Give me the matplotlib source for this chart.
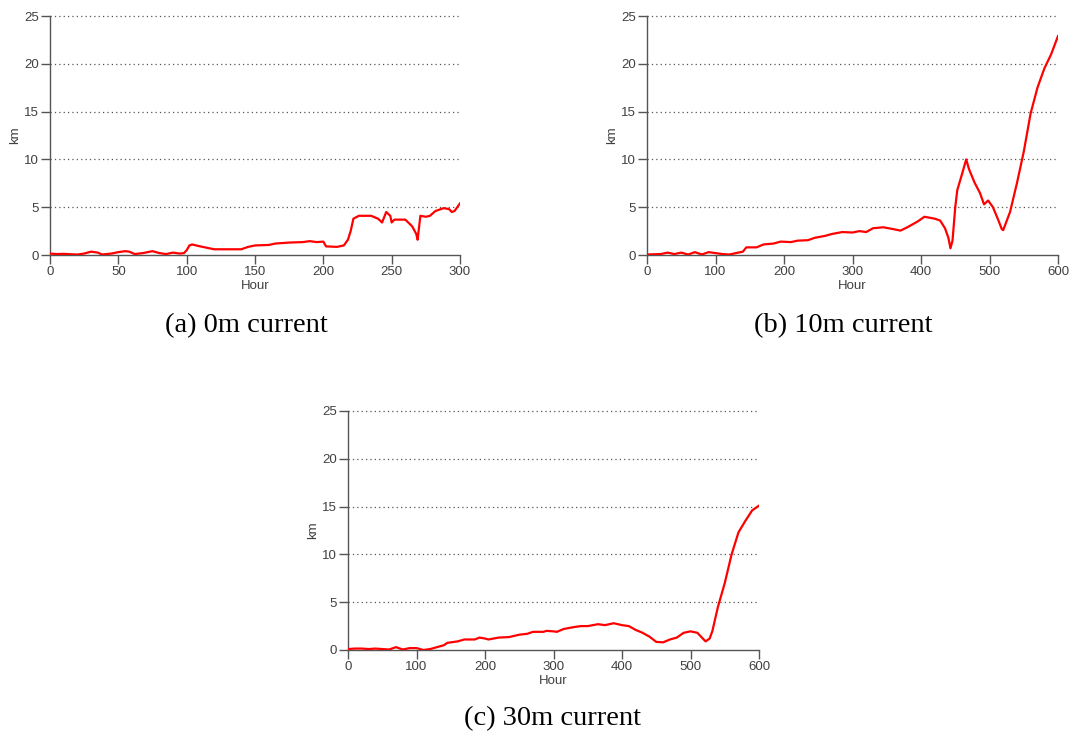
import matplotlib
matplotlib.use("Agg")
import matplotlib.pyplot as plt

# Panel (a) 0m current
hours_a = [0, 5, 10, 15, 20, 25, 30, 35, 38, 45, 50, 55, 58, 62, 68, 75, 80, 85, 90, 95, 98,
           100, 102, 104, 110, 120, 130, 140, 145, 150, 160, 165, 175, 185, 190, 195, 200,
           202, 210, 215, 218, 220, 222, 226, 235, 240, 243, 246, 249, 250, 252, 260, 265,
           268, 269, 271, 275, 278, 282, 288, 292, 294, 296, 300]
km_a = [0.15, 0.1, 0.12, 0.08, 0.05, 0.15, 0.35, 0.25, 0.05, 0.15, 0.3, 0.4, 0.35, 0.1, 0.2,
        0.4, 0.2, 0.1, 0.25, 0.15, 0.2,
        0.5, 1.0, 1.1, 0.9, 0.6, 0.6, 0.6, 0.85, 1.0, 1.05, 1.2, 1.3, 1.35, 1.45, 1.35, 1.4,
        0.9, 0.85, 1.0, 1.6, 2.5, 3.8, 4.1, 4.1, 3.8, 3.4, 4.5, 4.1, 3.4, 3.7, 3.7, 3.0,
        2.2, 1.6, 4.1, 4.0, 4.1, 4.6, 4.9, 4.8, 4.5, 4.6, 5.4]

# Panel (b) 10m current
hours_b = [0, 20, 30, 40, 50, 60, 70, 80, 90, 100, 110, 120, 130, 140, 145, 160, 170, 185,
           195, 210, 220, 235, 245, 260, 270, 285, 300, 310, 320, 330, 345, 360, 370, 380,
           395, 405, 420, 428, 435, 440, 443, 446, 450, 453, 458, 462, 466, 470, 478, 486,
           492, 498, 505, 512, 518, 520, 530, 540, 550, 560, 570, 580, 590, 600]
km_b = [0.05, 0.1, 0.25, 0.1, 0.25, 0.05, 0.3, 0.05, 0.3, 0.2, 0.1, 0.05, 0.2, 0.35, 0.8,
        0.8, 1.1, 1.2, 1.4, 1.35, 1.5, 1.55, 1.8, 2.0, 2.2, 2.4, 2.35, 2.5, 2.4, 2.8, 2.9,
        2.7, 2.55, 2.9, 3.5, 4.0, 3.8, 3.6, 2.8, 1.8, 0.7, 1.5, 5.0, 6.8, 8.0, 9.0, 10.0,
        9.0, 7.6, 6.5, 5.3, 5.7, 5.0, 3.8, 2.7, 2.6, 4.5, 7.5, 10.8, 14.8, 17.5, 19.5,
        21.0, 22.9]

# Panel (c) 30m current
hours_c = [0, 10, 20, 30, 40, 50, 60, 70, 80, 90, 100, 110, 120, 130, 140, 145, 160, 170,
           185, 192, 200, 205, 220, 235, 250, 262, 270, 285, 290, 300, 305, 315, 330, 340,
           350, 365, 375, 388, 400, 410, 420, 430, 440, 450, 460, 470, 480, 490, 500, 510,
           518, 522, 528, 532, 540, 550, 560, 570, 580, 590, 600]
km_c = [0.1, 0.15, 0.15, 0.1, 0.15, 0.1, 0.05, 0.3, 0.05, 0.2, 0.2, 0.0, 0.1, 0.3, 0.5,
        0.75, 0.9, 1.1, 1.1, 1.3, 1.2, 1.1, 1.3, 1.35, 1.6, 1.7, 1.9, 1.9, 2.0, 1.95, 1.9,
        2.2, 2.4, 2.5, 2.5, 2.7, 2.6, 2.8, 2.6, 2.5, 2.1, 1.8, 1.4, 0.85, 0.8, 1.1, 1.3,
        1.8, 1.95, 1.8, 1.2, 0.9, 1.2, 2.0, 4.5, 7.0, 10.0, 12.3, 13.5, 14.6, 15.1]

y_ticks = [0, 5, 10, 15, 20, 25]
x_ticks_a = [0, 50, 100, 150, 200, 250, 300]
x_ticks_bc = [0, 100, 200, 300, 400, 500, 600]
captions = ["(a) 0m current", "(b) 10m current", "(c) 30m current"]

W, H = 1072, 736
fig = plt.figure(figsize=(W / 100, H / 100), dpi=100)

def px_axes(x0, x1, y_top, y_bot):
    return fig.add_axes([x0 / W, 1 - y_bot / H, (x1 - x0) / W, (y_bot - y_top) / H])

tick_col = "#404040"

def style(ax, xmax, xticks):
    ax.set_xlim(0, xmax)
    ax.set_ylim(0, 25)
    ax.set_xticks(xticks)
    ax.set_yticks(y_ticks)
    for s in ["top", "right"]:
        ax.spines[s].set_visible(False)
    for s in ["left", "bottom"]:
        ax.spines[s].set_color("#555555")
        ax.spines[s].set_linewidth(1.0)
    ax.tick_params(direction="out", length=6.5, width=1, color="#555555",
                   labelsize=9.5, labelcolor=tick_col, pad=1.5)
    for lab in ax.get_xticklabels() + ax.get_yticklabels():
        lab.set_family("Liberation Sans")
    for yv in y_ticks[1:]:
        ax.axhline(yv, color="#555555", linestyle=(0, (1, 2.5)), linewidth=0.9,
                   clip_on=False, zorder=1)
    ax.set_xlabel("Hour", fontsize=9.5, color=tick_col, family="Liberation Sans", labelpad=1)
    ax.set_ylabel("km", fontsize=9.5, color=tick_col, family="Liberation Sans", labelpad=2)

ax_a = px_axes(50, 460, 16, 255)
ax_a.plot(hours_a, km_a, color="red", linewidth=1.6, zorder=3)
style(ax_a, 300, x_ticks_a)

ax_b = px_axes(647, 1058, 16, 255)
ax_b.plot(hours_b, km_b, color="red", linewidth=1.6, zorder=3)
style(ax_b, 600, x_ticks_bc)

ax_c = px_axes(348, 759, 411, 650)
ax_c.plot(hours_c, km_c, color="red", linewidth=1.6, zorder=3)
style(ax_c, 600, x_ticks_bc)

cap_kw = dict(fontsize=20.5, family="Liberation Serif", ha="center", va="center", color="black")
fig.text(246 / W, 1 - 326 / H, captions[0], **cap_kw)
fig.text(843 / W, 1 - 326 / H, captions[1], **cap_kw)
fig.text(553 / W, 1 - 719 / H, captions[2], **cap_kw)

fig.savefig("out.png", dpi=100, facecolor="white")
